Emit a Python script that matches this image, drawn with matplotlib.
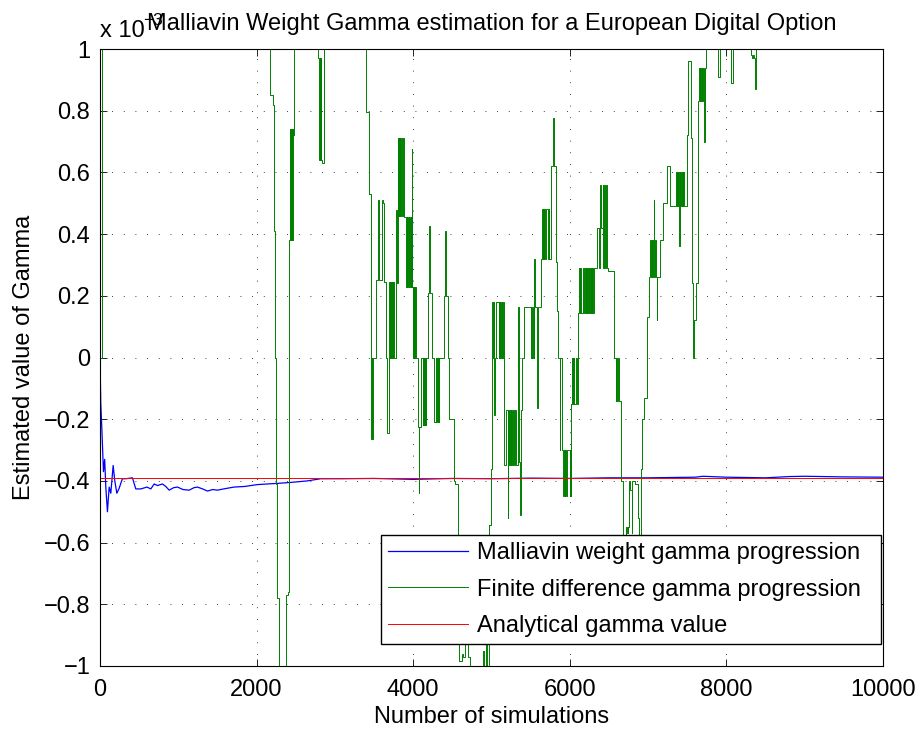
import numpy as np
import matplotlib
matplotlib.use('Agg')
import matplotlib.pyplot as plt

# all gamma values in units of 1e-3
gamma_exact = -0.389

mw_x = [0, 10, 25, 44, 60, 74, 95, 117, 138, 168, 189, 215, 243, 286, 329, 414, 457, 521,
        600, 649, 692, 734, 798, 840, 884, 940, 990, 1060, 1139, 1200, 1245, 1310, 1373,
        1440, 1500, 1600, 1713, 1850, 2010, 2265, 2435, 2648, 2818, 3073, 3500, 4000, 4500,
        5000, 5500, 6000, 6500, 7000, 7600, 7700, 8000, 8500, 8800, 9000, 9500, 10000]
mw_y = [0.0, -0.15, -0.24, -0.37, -0.33, -0.42, -0.50, -0.42, -0.44, -0.35, -0.40, -0.44,
        -0.425, -0.393, -0.393, -0.39, -0.426, -0.426, -0.42, -0.426, -0.41, -0.415, -0.41,
        -0.418, -0.43, -0.422, -0.42, -0.428, -0.43, -0.422, -0.42, -0.426, -0.433, -0.428,
        -0.43, -0.425, -0.42, -0.418, -0.412, -0.408, -0.405, -0.40, -0.393, -0.393, -0.392,
        -0.395, -0.392, -0.393, -0.391, -0.392, -0.39, -0.39, -0.388, -0.385, -0.388, -0.39,
        -0.386, -0.385, -0.387, -0.388]

# finite difference estimate, (simulation, value) steps
fd_start = [(0, 0.0), (20, 1.3)]
fd_2200 = [(2171, 0.85), (2215, 0.82), (2226, 0.41), (2236, 0.0), (2244, -0.4),
           (2250, -0.41), (2262, -0.78), (2285, -0.79), (2292, -1.3), (2372, -0.77),
           (2395, -0.76), (2412, 0.38), (2425, 0.74), (2430, 0.38), (2436, 0.74),
           (2442, 0.38), (2448, 0.74), (2454, 0.38), (2460, 0.74), (2466, 0.72),
           (2472, 0.73), (2482, 1.3)]
fd_2800 = [(2781, 0.98), (2790, 0.97), (2800, 0.64), (2804, 0.97), (2808, 0.64),
           (2812, 0.97), (2816, 0.64), (2820, 0.97), (2824, 0.64), (2830, 0.63), (2867, 1.3)]
fd_3400 = [(3397, 0.795), (3430, 0.78), (3440, 0.53), (3461, 0.52), (3466, -0.265),
           (3472, 0.0), (3478, -0.265), (3483, 0.0), (3525, 0.25), (3546, 0.51), (3567, 0.25),
           (3600, 0.51), (3615, 0.5), (3631, 0.245), (3650, 0.0), (3665, -0.245), (3690, 0.0),
           (3695, 0.245), (3700, 0.0), (3710, 0.245), (3716, 0.0), (3722, 0.245), (3728, 0.0),
           (3734, 0.245), (3740, 0.0), (3746, 0.245), (3752, 0.0)]
fd_3800 = [(3780, 0.477), (3790, 0.24), (3802, 0.71), (3808, 0.46), (3814, 0.71),
           (3820, 0.46), (3826, 0.71), (3832, 0.46), (3838, 0.71), (3844, 0.46), (3850, 0.71),
           (3856, 0.46), (3865, 0.71), (3887, 0.457), (3910, 0.23), (3918, 0.457), (3926, 0.23),
           (3934, 0.457), (3942, 0.23), (3950, 0.457), (3958, 0.23), (3966, 0.457), (3974, 0.23),
           (3980, 0.675), (3986, 0.23), (3993, 0.0), (4000, 0.23), (4010, 0.0), (4016, 0.23),
           (4022, 0.0), (4028, 0.23), (4034, 0.0), (4040, 0.0)]
fd_4050 = [(4057, -0.225), (4070, -0.44), (4080, -0.225), (4099, 0.0), (4120, -0.22),
           (4127, 0.0), (4134, -0.22), (4141, 0.0), (4148, -0.22), (4155, 0.0), (4162, -0.22),
           (4169, 0.0), (4176, 0.0), (4192, 0.21), (4200, 0.425), (4215, 0.21), (4240, 0.0),
           (4270, -0.21), (4290, 0.0), (4297, -0.21), (4304, 0.0), (4311, -0.21), (4318, 0.0),
           (4325, -0.21), (4332, 0.0), (4340, 0.0), (4389, 0.2), (4400, 0.41), (4420, 0.2),
           (4440, 0.0), (4460, -0.2), (4517, -0.4), (4540, -0.41), (4568, -0.75)]
fd_4600 = [(4580, -0.985), (4620, -0.96), (4640, -0.97), (4665, -0.93), (4700, -0.97),
           (4720, -1.3), (4890, -0.95), (4905, -1.3), (4925, -0.92), (4945, -1.3),
           (4972, -0.544)]
fd_5000 = [(4994, -0.36), (5005, -0.185), (5012, 0.18), (5020, 0.0), (5028, 0.18),
           (5036, -0.185), (5044, 0.0), (5060, 0.18), (5090, 0.0), (5098, 0.18), (5106, 0.0),
           (5114, 0.18), (5122, 0.0), (5130, 0.18), (5138, 0.0), (5146, 0.18), (5164, -0.35),
           (5185, -0.17), (5206, -0.52), (5215, -0.17), (5225, -0.35), (5235, -0.17),
           (5245, -0.35), (5255, -0.17), (5265, -0.35), (5275, -0.17), (5285, -0.35),
           (5295, -0.17), (5310, -0.35), (5340, 0.165), (5350, -0.34), (5370, -0.51),
           (5380, -0.17), (5395, 0.0), (5410, 0.165), (5500, 0.0), (5510, 0.165), (5520, 0.0),
           (5530, 0.165), (5540, 0.0), (5547, 0.32), (5555, 0.165), (5575, -0.165),
           (5600, 0.165)]
fd_5600 = [(5630, 0.32), (5645, 0.48), (5652, 0.32), (5659, 0.48), (5666, 0.32),
           (5673, 0.48), (5680, 0.32), (5700, 0.48), (5720, 0.32), (5730, 0.48), (5740, 0.32),
           (5760, 0.62), (5785, 0.775), (5795, 0.62), (5820, 0.31), (5840, 0.15), (5855, 0.0),
           (5870, -0.3), (5880, 0.0), (5900, -0.3), (5915, -0.45), (5925, -0.3), (5935, -0.45),
           (5945, -0.3), (5955, -0.45), (5970, -0.3), (6000, -0.45), (6006, -0.3),
           (6012, -0.45), (6018, -0.15), (6024, 0.0), (6030, -0.15), (6036, 0.0),
           (6042, -0.15), (6050, 0.0), (6060, -0.15), (6075, 0.0), (6090, -0.15), (6100, 0.0)]
fd_6100 = [(6108, 0.145), (6116, 0.29), (6124, 0.145), (6132, 0.29), (6145, 0.145),
           (6165, 0.29), (6185, 0.145), (6193, 0.29), (6201, 0.145), (6209, 0.29),
           (6217, 0.145), (6225, 0.29), (6233, 0.145), (6241, 0.29), (6249, 0.145),
           (6257, 0.29), (6265, 0.145), (6273, 0.29), (6281, 0.145), (6289, 0.29),
           (6297, 0.145), (6305, 0.29), (6320, 0.29), (6350, 0.42), (6370, 0.29), (6385, 0.56),
           (6400, 0.42), (6420, 0.56), (6430, 0.29), (6440, 0.56), (6450, 0.29), (6460, 0.56),
           (6470, 0.29), (6490, 0.28), (6568, 0.0), (6585, -0.14), (6595, 0.0), (6605, -0.14),
           (6615, 0.0), (6625, -0.14)]
fd_6650 = [(6654, -0.4), (6680, -0.7), (6717, -0.55), (6724, -0.57), (6731, -0.55),
           (6738, -0.57), (6745, -0.55), (6760, -0.4), (6775, -0.43), (6790, -0.57),
           (6800, -0.4), (6830, -0.41), (6866, -0.52), (6880, -0.7), (6909, -0.36),
           (6925, -0.2), (6950, -0.13), (6985, 0.13)]
fd_7000 = [(7016, 0.26), (7030, 0.38), (7040, 0.26), (7048, 0.38), (7056, 0.26),
           (7064, 0.38), (7070, 0.51), (7075, 0.26), (7090, 0.38), (7100, 0.26), (7110, 0.12),
           (7120, 0.26), (7150, 0.38), (7190, 0.5), (7240, 0.62), (7280, 0.49), (7356, 0.6),
           (7364, 0.49), (7372, 0.6), (7380, 0.49), (7388, 0.6), (7396, 0.36), (7404, 0.6),
           (7412, 0.49), (7420, 0.6), (7428, 0.49), (7436, 0.6), (7444, 0.49), (7452, 0.6),
           (7460, 0.49), (7480, 0.49)]
fd_7500 = [(7497, 0.72), (7505, 0.96), (7545, 0.95), (7550, 0.71), (7560, 0.24),
           (7575, 0.0), (7585, 0.12), (7612, 0.24), (7633, 0.83), (7650, 0.94), (7658, 0.83),
           (7666, 0.94), (7674, 0.83), (7682, 0.94), (7690, 0.83), (7700, 0.94), (7718, 0.70),
           (7725, 0.94), (7739, 1.3), (7888, 0.91), (7914, 1.3), (8058, 0.89), (8084, 1.3),
           (8314, 0.98), (8330, 0.97), (8340, 0.98), (8350, 0.97), (8370, 0.87), (8382, 1.3),
           (10000, 1.3)]

fd_pts = (fd_start + fd_2200 + fd_2800 + fd_3400 + fd_3800 + fd_4050 + fd_4600 + fd_5000
          + fd_5600 + fd_6100 + fd_6650 + fd_7000 + fd_7500)
fd_x = [p[0] for p in fd_pts]
fd_y = [p[1] for p in fd_pts]

plt.rcParams['font.family'] = ['Liberation Sans', 'DejaVu Sans']
plt.rcParams['font.size'] = 17

fig = plt.figure(figsize=(9.21, 7.31), dpi=100)
ax = fig.add_axes([100/921, 65/731, 783/921, 617/731])

ax.plot(mw_x, mw_y, color='#0000ff', lw=0.9, label='Malliavin weight gamma progression')
ax.plot(fd_x, fd_y, color='#008000', lw=0.7, drawstyle='steps-post',
        label='Finite difference gamma progression')
ax.plot([0, 10000], [gamma_exact, gamma_exact], color='#ff0000', lw=0.7,
        label='Analytical gamma value')

ax.set_xlim(0, 10000)
ax.set_ylim(-1, 1)
ax.set_xticks(np.arange(0, 10001, 2000))
yt = np.round(np.arange(-1, 1.001, 0.2), 1)
ax.set_yticks(yt)
ax.set_yticklabels(['0' if v == 0 else f'{v:g}'.replace('-', '\u2212') for v in yt])
ax.tick_params(direction='in', top=True, right=True, length=5, width=0.6, labelsize=17)
ax.tick_params(axis='x', pad=9)
ax.tick_params(axis='y', pad=7)
ax.grid(True, color='black', linestyle=(0, (1, 13)), linewidth=0.6)
for s in ax.spines.values():
    s.set_linewidth(0.8)

ax.set_xlabel('Number of simulations', labelpad=4)
ax.set_ylabel('Estimated value of Gamma', labelpad=6)
ax.set_title('Malliavin Weight Gamma estimation for a European Digital Option', fontsize=17, pad=14)
ax.text(0.0, 1.0194, 'x 10', transform=ax.transAxes, ha='left', va='baseline', fontsize=17)
ax.text(0.055, 1.039, '\u22123', transform=ax.transAxes, ha='left', va='baseline', fontsize=12.5)

leg = ax.legend(loc='lower left', bbox_to_anchor=(0.359, 0.0357, 0.6386, 0.1), mode='expand',
                borderaxespad=0, fancybox=False, edgecolor='black', framealpha=1, fontsize=17,
                handlelength=3.4, handletextpad=0.4, labelspacing=0.62, borderpad=0.28)
leg.get_frame().set_linewidth(1.0)

fig.savefig('out.png', dpi=100)
